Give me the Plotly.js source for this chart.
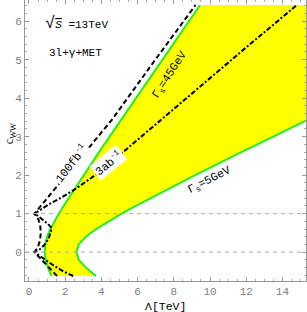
<!DOCTYPE html>
<html>
<head>
<meta charset="utf-8">
<script src="https://cdn.plot.ly/plotly-3.0.1.min.js"></script>
<style>html,body{margin:0;padding:0;background:#fff;}#chart{width:307px;height:312px;}</style>
</head>
<body>
<div id="chart"></div>
<script>
// Γs = 45 GeV boundary (left edge of allowed band)
const c45 = [-0.62,-0.4,-0.2,0,0.2,0.4,0.6,0.8,1.0,1.25,1.5,2.0,2.5,3.0,3.5,4.0,4.5,5.0,5.5,6.0,6.42];
const lam45 = [1.24,1.04,0.92,0.87,0.89,1.0,1.18,1.41,1.65,1.98,2.32,3.02,3.73,4.45,5.18,5.91,6.64,7.37,8.1,8.83,9.45];
// Γs = 5 GeV boundary (right edge of allowed band)
const c5 = [-0.62,-0.4,-0.2,0,0.2,0.4,0.6,0.8,1.0,1.25,1.5,2.0,2.5,3.0,3.5,4.5,6.42];
const lam5 = [3.7,3.14,2.75,2.62,2.75,3.14,3.71,4.38,5.11,6.09,7.1,9.18,11.31,13.47,15.63,20.0,28.4];
// 100 fb^-1 reach (dashed)
const c100 = [-0.62,-0.4,-0.2,0,0.12,0.3,0.5,0.7,0.85,1.0,1.34,1.8,2.78,3.45,4.95,6.42];
const lam100 = [1.55,1.1,0.7,0.3,0.48,0.61,0.65,0.62,0.52,0.3,0.9,1.7,3.4,4.6,6.9,9.2];
// 3 ab^-1 reach (dash-dot)
const c3ab = [-0.62,-0.5,-0.34,-0.17,0,0.08,0.22,0.4,0.62,0.73,0.85,0.94,1.0,1.13,1.27,1.42,1.65,2.08,2.72,3.69,4.5,5.32,6.42];
const lam3ab = [2.44,1.9,1.34,0.8,0.3,0.62,0.92,1.12,1.26,1.05,0.75,0.5,0.3,0.7,1.2,1.8,2.6,3.9,5.5,7.9,9.9,12.0,14.8];

const xTicks = [0,2,4,6,8,10,12,14];
const yTicks = [0,1,2,3,4,5,6];
const refLines = [0,1];

const fillX = lam45.concat(lam5.slice().reverse());
const fillY = c45.concat(c5.slice().reverse());

const traces = [
  {x: fillX, y: fillY, mode:'lines', fill:'toself', fillcolor:'#ffff00', line:{width:0}, hoverinfo:'skip'},
  {x: lam45, y: c45, mode:'lines', line:{color:'#22ee22', width:2}},
  {x: lam5, y: c5, mode:'lines', line:{color:'#22ee22', width:2}},
  {x: lam100, y: c100, mode:'lines', line:{color:'#000', width:2, dash:'5px,3px'}},
  {x: lam3ab, y: c3ab, mode:'lines', line:{color:'#000', width:2, dash:'5px,2px,2px,2px'}}
];

const mono = 'Liberation Mono, monospace';
const tickFont = {family:mono, size:11, color:'#808080'};
const axBase = {showgrid:false, zeroline:false, showline:true, linecolor:'#999', linewidth:1,
  mirror:'ticks', ticks:'inside', ticklen:4, tickcolor:'#999', tickfont:tickFont};

function ann(o){ return Object.assign({showarrow:false, xanchor:'center', yanchor:'middle'}, o); }

const layout = {
  width:307, height:312,
  margin:{l:25, r:1, t:0, b:31},
  paper_bgcolor:'#fff', plot_bgcolor:'#fff',
  showlegend:false,
  xaxis: Object.assign({}, axBase, {range:[-0.22,15.3], tickvals:xTicks, ticktext:xTicks.map(String),
    minor:{dtick:0.5, tick0:0, ticks:'inside', ticklen:2, tickcolor:'#aaa'}}),
  yaxis: Object.assign({}, axBase, {range:[-0.75,6.55], tickvals:yTicks, ticktext:yTicks.map(String),
    minor:{dtick:0.2, tick0:0, ticks:'inside', ticklen:2, tickcolor:'#aaa'}}),
  shapes: refLines.map(v => ({type:'line', xref:'paper', x0:0, x1:1, yref:'y', y0:v, y1:v,
    line:{color:'#aaa', width:1, dash:'4px,4px'}, layer:'above'})),
  annotations: [
    ann({xref:'paper', yref:'paper', x:0.5, y:-0.089, text:'Λ[TeV]',
      font:{family:mono, size:11.5, color:'#000'}}),
    ann({xref:'paper', yref:'paper', x:-0.053, y:0.523, text:'c<sub>WW</sub>', textangle:-90,
      font:{family:'Liberation Serif, serif', size:12, color:'#000'}}),
    ann({xref:'paper', yref:'paper', x:0.064, y:0.918, xanchor:'left',
      text:'<span style="font-size:17px">√</span><span style="text-decoration:overline"><i>S</i></span> =13TeV',
      font:{family:mono, size:11, color:'#000'}}),
    ann({xref:'paper', yref:'paper', x:0.078, y:0.811, xanchor:'left',
      text:'3l+γ+MET',
      font:{family:mono, size:11, color:'#000'}}),
    ann({x:2.3, y:2.3, text:'100fb<sup>-1</sup>', textangle:-52, bgcolor:'#fff',
      font:{family:mono, size:11.5, color:'#000'}}),
    ann({x:4.41, y:2.32, text:'3ab<sup>-1</sup>', textangle:-39, bgcolor:'#fff',
      font:{family:mono, size:11.5, color:'#000'}}),
    ann({x:7.75, y:4.6, text:'Γ<sub>s</sub>=45GeV', textangle:-57,
      font:{family:mono, size:11.5, color:'#000'}}),
    ann({x:9.95, y:1.88, text:'Γ<sub>s</sub>=5GeV', textangle:-27,
      font:{family:mono, size:11.5, color:'#000'}})
  ]
};

Plotly.newPlot('chart', traces, layout, {staticPlot:true, displayModeBar:false});
</script>
</body>
</html>
